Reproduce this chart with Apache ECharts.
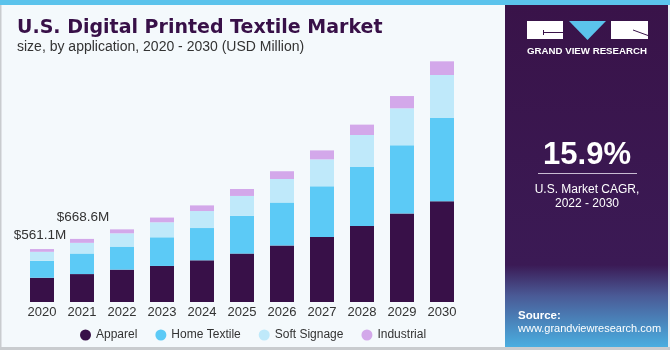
<!DOCTYPE html>
<html>
<head>
<meta charset="utf-8">
<script src="https://cdn.jsdelivr.net/npm/echarts@6/dist/echarts.min.js"></script>
<style>
html,body{margin:0;padding:0;background:#f4f9fc;}
#c{width:670px;height:350px;}
</style>
</head>
<body>
<div id="c"></div>
<script>
const years = ['2020','2021','2022','2023','2024','2025','2026','2027','2028','2029','2030'];
const apparel = [257, 296, 343, 382, 442, 513, 598, 689, 806, 937, 1067];
const homeTextile = [179, 218, 244, 304, 342, 399, 456, 537, 625, 724, 883];
const softSignage = [96, 113, 141, 159, 180, 212, 250, 286, 339, 392, 456];
const industrial = [29.1, 41.6, 42, 50, 60, 74, 82, 95, 110, 130, 145];
const totalLabels = ['$561.1M', '$668.6M'];

const chart = echarts.init(document.getElementById('c'), null, {renderer: 'canvas'});
const font = '"Liberation Sans", Arial, sans-serif';

const industrialData = industrial.map((v, i) => {
  if (i === 0) return {value: v, label: {show: true, formatter: totalLabels[0], position: 'top', distance: 7, offset: [-2, 0]}};
  if (i === 1) return {value: v, label: {show: true, formatter: totalLabels[1], position: 'top', distance: 15, offset: [1, 0]}};
  return v;
});

const barW = 24;
chart.setOption({
  backgroundColor: '#f4f9fc',
  animation: false,
  grid: {left: 22, width: 440, top: 56.7, bottom: 48, containLabel: false},
  xAxis: {
    type: 'category', data: years,
    axisLine: {show: false}, axisTick: {show: false},
    axisLabel: {color: '#333', fontSize: 13, fontFamily: font, margin: 4}
  },
  yAxis: {type: 'value', min: 0, max: 2600, show: false, splitLine: {show: false}},
  legend: {
    top: 324, left: 75, itemGap: 18, icon: 'circle', itemWidth: 11, itemHeight: 11,
    textStyle: {color: '#333', fontSize: 12, fontFamily: font}
  },
  series: [
    {name: 'Apparel', type: 'bar', stack: 'a', data: apparel, barWidth: barW, itemStyle: {color: '#381048'}},
    {name: 'Home Textile', type: 'bar', stack: 'a', data: homeTextile, barWidth: barW, itemStyle: {color: '#5ccaf6'}},
    {name: 'Soft Signage', type: 'bar', stack: 'a', data: softSignage, barWidth: barW, itemStyle: {color: '#bfe9fa'}},
    {name: 'Industrial', type: 'bar', stack: 'a', data: industrialData, barWidth: barW, itemStyle: {color: '#d3a8ea'},
     label: {show: false, color: '#333', fontSize: 13.5, fontFamily: font}}
  ],
  graphic: [
    {type: 'rect', left: 0, top: 0, shape: {width: 670, height: 5}, style: {fill: '#5bc3ec'}, z: 10},
    {type: 'rect', left: 0, top: 0, shape: {width: 1.5, height: 350}, style: {fill: '#c9cccf'}, z: 9},
    {type: 'rect', left: 0, top: 347, shape: {width: 670, height: 3}, style: {fill: '#c9cccf'}, z: 9},
    {type: 'rect', left: 505, top: 5, shape: {width: 163, height: 342},
     style: {fill: new echarts.graphic.LinearGradient(0, 0, 0, 1, [
       {offset: 0, color: '#391349'}, {offset: 0.76, color: '#3b1a55'},
       {offset: 0.85, color: '#4a5a96'}, {offset: 1, color: '#4aaee0'}])}, z: 10},
    {type: 'rect', left: 668, top: 5, shape: {width: 2, height: 342}, style: {fill: '#e6eef3'}, z: 10},
    // logo
    {type: 'rect', left: 527, top: 21, shape: {width: 36, height: 18}, style: {fill: '#ffffff'}, z: 11},
    {type: 'polygon', shape: {points: [[569, 21], [606, 21], [587.5, 40]]}, style: {fill: '#5bc3ec'}, z: 11},
    {type: 'rect', left: 611, top: 21, shape: {width: 37, height: 18}, style: {fill: '#ffffff'}, z: 11},
    {type: 'line', shape: {x1: 543, y1: 32.5, x2: 563, y2: 32.5}, style: {stroke: '#391349', lineWidth: 1}, z: 12},
    {type: 'line', shape: {x1: 543.5, y1: 30, x2: 543.5, y2: 35}, style: {stroke: '#391349', lineWidth: 1}, z: 12},
    {type: 'line', shape: {x1: 633, y1: 30, x2: 648, y2: 35.5}, style: {stroke: '#391349', lineWidth: 1}, z: 12},
    {type: 'text', x: 527, y: 51, style: {text: 'GRAND VIEW RESEARCH', fill: '#ffffff', font: 'bold 9.7px ' + font, textVerticalAlign: 'middle'}, z: 11},
    // CAGR
    {type: 'text', x: 587, y: 155, style: {text: '15.9%', fill: '#ffffff', font: 'bold 31px ' + font, textAlign: 'center', textVerticalAlign: 'middle'}, z: 11},
    {type: 'line', shape: {x1: 538, y1: 173.5, x2: 637, y2: 173.5}, style: {stroke: '#c8bcd2', lineWidth: 1}, z: 11},
    {type: 'text', x: 587, y: 190, style: {text: 'U.S. Market CAGR,', fill: '#ffffff', font: '12px ' + font, textAlign: 'center', textVerticalAlign: 'middle'}, z: 11},
    {type: 'text', x: 587, y: 204, style: {text: '2022 - 2030', fill: '#ffffff', font: '12px ' + font, textAlign: 'center', textVerticalAlign: 'middle'}, z: 11},
    // source
    {type: 'text', x: 518, y: 316, style: {text: 'Source:', fill: '#ffffff', font: 'bold 11.5px ' + font, textVerticalAlign: 'middle'}, z: 11},
    {type: 'text', x: 518, y: 329, style: {text: 'www.grandviewresearch.com', fill: '#ffffff', font: '11px ' + font, textVerticalAlign: 'middle'}, z: 11},
    // titles
    {type: 'text', x: 17, y: 28, style: {text: 'U.S. Digital Printed Textile Market', fill: '#381048', font: 'bold 19px "DejaVu Sans", sans-serif', textVerticalAlign: 'middle'}, z: 11},
    {type: 'text', x: 17, y: 47.5, style: {text: 'size, by application, 2020 - 2030 (USD Million)', fill: '#333333', font: '14px ' + font, textVerticalAlign: 'middle'}, z: 11}
  ]
});
</script>
</body>
</html>
